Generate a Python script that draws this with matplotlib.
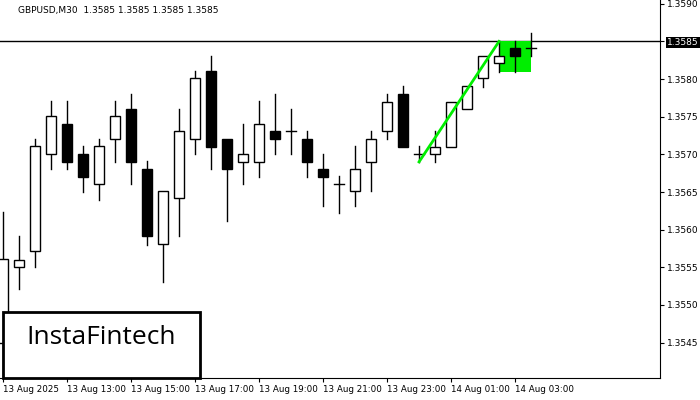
import matplotlib
matplotlib.use("Agg")
import matplotlib.pyplot as plt
from matplotlib.patches import Rectangle

opens  = [1.3545,1.3555,1.35572,1.35700,1.35740,1.35700,1.35660,1.35720,1.35760,1.35681,
          1.35581,1.35642,1.35720,1.35811,1.35720,1.35690,1.35690,1.35731,1.35731,1.35720,
          1.35681,1.35660,1.35651,1.35690,1.35731,1.35780,1.35700,1.35700,1.35710,1.35760,
          1.35801,1.35821,1.35841,1.35841]
closes = [1.35561,1.3556,1.35711,1.35751,1.35690,1.35670,1.35711,1.35751,1.35690,1.35591,
          1.35651,1.35731,1.35801,1.35710,1.35680,1.35700,1.35740,1.35720,1.35731,1.35690,
          1.35670,1.35660,1.35680,1.35720,1.35770,1.35710,1.35700,1.35710,1.35770,1.35791,
          1.35830,1.35830,1.35830,1.35841]
highs  = [1.35623,1.35592,1.35720,1.35771,1.35771,1.35711,1.35720,1.35771,1.35780,1.35691,
          1.35651,1.35760,1.35811,1.35830,1.35720,1.35740,1.35771,1.35780,1.35760,1.35731,
          1.35700,1.35671,1.35711,1.35731,1.35780,1.35791,1.35711,1.35731,1.35770,1.35791,
          1.35830,1.3585,1.3585,1.35861]
lows   = [1.3540,1.35521,1.35551,1.35680,1.35680,1.35650,1.35640,1.35690,1.35660,1.35580,
          1.35531,1.35591,1.35700,1.35680,1.35611,1.35660,1.35670,1.35700,1.35700,1.35670,
          1.35631,1.35622,1.35631,1.35651,1.35720,1.35710,1.35690,1.35690,1.35710,1.35760,
          1.35790,1.3581,1.3581,1.35830]
time_labels = ["13 Aug 2025","13 Aug 13:00","13 Aug 15:00","13 Aug 17:00","13 Aug 19:00",
               "13 Aug 21:00","13 Aug 23:00","14 Aug 01:00","14 Aug 03:00"]
price_ticks = [1.3545,1.3550,1.3555,1.3560,1.3565,1.3570,1.3575,1.3580,1.3585,1.3590]
current_price = 1.3585
pattern_line_x = [26, 31]
pattern_line_y = [1.3569, 1.3585]
zone_x = [31, 33]
zone_y = [1.3581, 1.3585]

fig = plt.figure(figsize=(7,4), dpi=100)
ax = fig.add_axes([0, 22/400, 660/700, 378/400])
w = 0.6
for i,(o,c,h,l) in enumerate(zip(opens,closes,highs,lows)):
    bot, top = min(o,c), max(o,c)
    ax.plot([i,i],[top,h], color='black', lw=1, zorder=3)
    ax.plot([i,i],[l,bot], color='black', lw=1, zorder=3)
    if abs(c-o) < 2e-6:
        ax.plot([i-w/2,i+w/2],[o,o], color='black', lw=1, zorder=3)
    else:
        ax.add_patch(Rectangle((i-w/2,bot), w, top-bot, facecolor='black' if c<o else 'white',
                               edgecolor='black', lw=1, zorder=3))
ax.add_patch(Rectangle((zone_x[0], zone_y[0]), zone_x[1]-zone_x[0], zone_y[1]-zone_y[0],
                       facecolor='#00ee00', edgecolor='none', zorder=2))
ax.plot(pattern_line_x, pattern_line_y, color='#00ee00', lw=2, zorder=4)
ax.axhline(current_price, color='black', lw=1, zorder=1)

ax.set_xlim(-0.19, 41.06)
ax.set_ylim(1.35403, 1.35905)
ax.yaxis.tick_right()
ax.set_yticks(price_ticks)
ax.set_yticklabels([f"{p:.4f}" for p in price_ticks], fontsize=6.5)
ax.set_xticks([4*k for k in range(len(time_labels))])
ax.set_xticklabels(time_labels, fontsize=6.3, ha='left')
ax.tick_params(length=3, pad=2)
for s in ['top','left']:
    ax.spines[s].set_visible(False)
for lab in ax.get_yticklabels():
    if lab.get_text() == f"{current_price:.4f}":
        lab.set_color('white')
        lab.set_bbox(dict(facecolor='black', edgecolor='none', pad=1))
ax.text(18/660, 0.985, "GBPUSD,M30  1.3585 1.3585 1.3585 1.3585", transform=ax.transAxes,
        fontsize=6.5, va='top', ha='left')
fig.patches.append(Rectangle((3/700, 22/400), 197/700, 66/400, transform=fig.transFigure,
                             facecolor='white', edgecolor='black', lw=2, zorder=10))
fig.text(101/700, 62/400, "InstaFintech", fontsize=19, ha='center', va='center',
         zorder=11, family='Open Sans')
fig.savefig("out.png", dpi=100)
